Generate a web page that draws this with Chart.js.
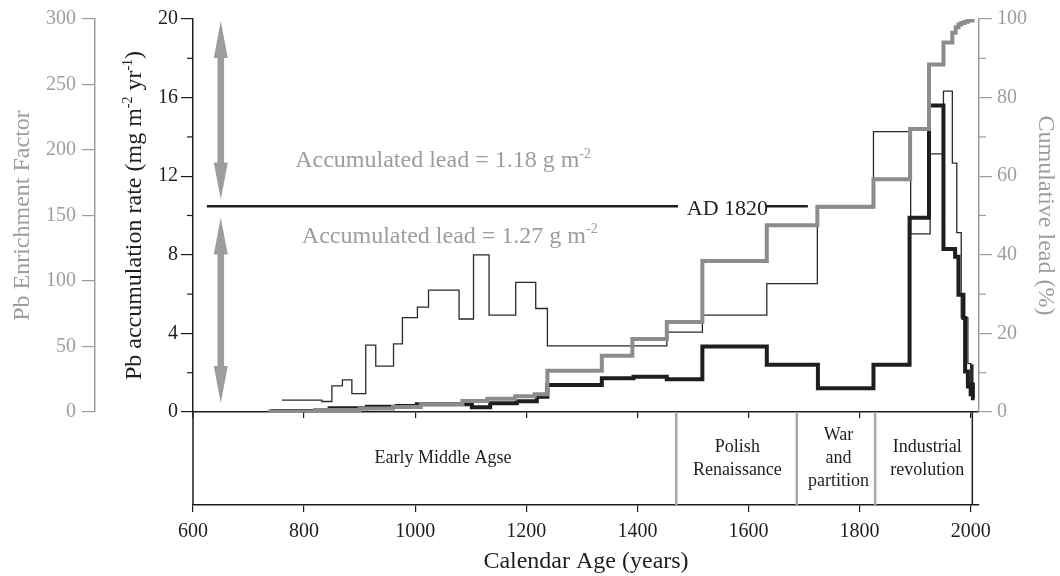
<!DOCTYPE html>
<html>
<head>
<meta charset="utf-8">
<script src="https://cdn.jsdelivr.net/npm/chart.js@4.4.0/dist/chart.umd.min.js"></script>
<style>
  body { margin: 0; background: #fff; }
  #wrap { width: 1060px; height: 576px; }
</style>
</head>
<body>
<div id="wrap"><canvas id="leadChart" width="1060" height="576"></canvas></div>
<script>
// step series: each year starts a step, the last year closes the final step
const rateYears = [740, 846, 913, 967, 1003, 1102, 1135, 1183, 1219, 1238, 1336, 1393, 1453, 1517, 1633, 1725, 1825, 1890, 1925, 1951, 1972, 1978, 1987, 1990, 1995, 2000, 2002, 2004, 2007];
const rateValues = [0.05, 0.19, 0.27, 0.3, 0.4, 0.24, 0.44, 0.55, 0.78, 1.38, 1.72, 1.8, 1.67, 3.33, 2.4, 1.21, 2.4, 9.88, 15.6, 8.3, 7.9, 5.97, 4.78, 2.06, 1.3, 0.9, 1.4, 0.7, 0.7];

const efYears = [760, 832, 850, 869, 886, 911, 929, 961, 977, 1004, 1024, 1079, 1105, 1133, 1181, 1217, 1238, 1453, 1517, 1633, 1724, 1825, 1892, 1927, 1951, 1967, 1975, 1983, 1995, 2000, 2002, 2004, 2007];
const efValues = [9, 8, 20, 24.5, 14, 51, 35, 52, 72, 80, 93, 71, 120, 74, 99, 79, 50.5, 61, 74, 98, 156, 214, 136, 197, 245, 190, 137, 72, 37, 22, 36, 18, 18];

const cumYears = [735, 820, 900, 960, 1010, 1085, 1130, 1180, 1215, 1238, 1336, 1391, 1453, 1517, 1633, 1724, 1825, 1891, 1925, 1951, 1967, 1973, 1978, 1983, 1989, 1995, 2007];
const cumValues = [0.1, 0.5, 0.9, 1.3, 2.0, 2.8, 3.4, 4.0, 4.5, 10.5, 14.3, 18.6, 22.9, 38.4, 47.5, 52.2, 59.2, 72.0, 88.4, 94.0, 96.5, 97.9, 98.6, 99.0, 99.3, 99.6, 99.6];

const periodBreaks = [1470, 1687, 1828];
const periodEnd = 2003;
const periodCenters = [1050, 1580, 1762, 1922];
const periodLabels = [['Early Middle Agse'], ['Polish', 'Renaissance'], ['War', 'and', 'partition'], ['Industrial', 'revolution']];

const xTicks = [600, 800, 1000, 1200, 1400, 1600, 1800, 2000];
const rateTicks = [0, 4, 8, 12, 16, 20];
const rateMinor = [2, 6, 10, 14, 18];
const efTicks = [0, 50, 100, 150, 200, 250, 300];
const cumTicks = [0, 20, 40, 60, 80, 100];
const cumMinor = [10, 30, 50, 70, 90];

const GREY = '#9d9d9d';
const INK = '#1e1e1e';
const SERIF = "'Liberation Serif', 'Times New Roman', serif";
Chart.defaults.font.family = SERIF;

const toPoints = (xs, ys) => xs.map((x, i) => ({ x: x, y: ys[i] }));
const fixTicks = list => scale => { scale.ticks = list.map(v => ({ value: v })); };
const plain = v => String(v);

// text with raised parts, parts = [[text, isSup], ...]
function drawSup(ctx, parts, x, y, size, align) {
  const base = size + 'px ' + SERIF;
  const small = Math.round(size * 0.6) + 'px ' + SERIF;
  let w = 0;
  parts.forEach(p => { ctx.font = p[1] ? small : base; w += ctx.measureText(p[0]).width; });
  let cx = align === 'center' ? x - w / 2 : x;
  ctx.textAlign = 'left';
  ctx.textBaseline = 'alphabetic';
  parts.forEach(p => {
    ctx.font = p[1] ? small : base;
    ctx.fillText(p[0], cx, p[1] ? y - size * 0.38 : y);
    cx += ctx.measureText(p[0]).width;
  });
}

function drawArrow(ctx, x, y1, y2) {
  const shaft = 3.3, head = 7, hl = 37;
  ctx.beginPath();
  ctx.moveTo(x, y1);
  ctx.lineTo(x + head, y1 + hl);
  ctx.lineTo(x + shaft, y1 + hl);
  ctx.lineTo(x + shaft, y2 - hl);
  ctx.lineTo(x + head, y2 - hl);
  ctx.lineTo(x, y2);
  ctx.lineTo(x - head, y2 - hl);
  ctx.lineTo(x - shaft, y2 - hl);
  ctx.lineTo(x - shaft, y1 + hl);
  ctx.lineTo(x - head, y1 + hl);
  ctx.closePath();
  ctx.fill();
}

const annotate = {
  id: 'annotate',
  afterDraw(chart) {
    const { ctx, chartArea, scales } = chart;
    const xs = scales.x, yR = scales.yRate, yC = scales.yCum;
    const bandTop = chartArea.bottom, bandBottom = scales.x2.top;
    ctx.save();

    // period band
    ctx.strokeStyle = INK;
    ctx.lineWidth = 1.5;
    ctx.beginPath();
    ctx.moveTo(chartArea.left, bandTop);
    ctx.lineTo(chartArea.left, bandBottom);
    const ex = xs.getPixelForValue(periodEnd);
    ctx.moveTo(ex, bandTop);
    ctx.lineTo(ex, bandBottom);
    ctx.stroke();
    ctx.strokeStyle = '#a8a8a8';
    ctx.lineWidth = 2.5;
    periodBreaks.forEach(v => {
      const px = xs.getPixelForValue(v);
      ctx.beginPath();
      ctx.moveTo(px, bandTop);
      ctx.lineTo(px, bandBottom);
      ctx.stroke();
    });
    ctx.fillStyle = INK;
    ctx.font = '18px ' + SERIF;
    ctx.textAlign = 'center';
    ctx.textBaseline = 'middle';
    const mid = (bandTop + bandBottom) / 2;
    periodLabels.forEach((lines, i) => {
      const px = xs.getPixelForValue(periodCenters[i]);
      lines.forEach((t, j) => {
        ctx.fillText(t, px, mid + (j - (lines.length - 1) / 2) * 23);
      });
    });

    // minor ticks
    ctx.lineWidth = 1.2;
    ctx.strokeStyle = INK;
    rateMinor.forEach(v => {
      const py = yR.getPixelForValue(v);
      ctx.beginPath();
      ctx.moveTo(chartArea.left - 6, py);
      ctx.lineTo(chartArea.left, py);
      ctx.stroke();
    });
    ctx.strokeStyle = GREY;
    cumMinor.forEach(v => {
      const py = yC.getPixelForValue(v);
      ctx.beginPath();
      ctx.moveTo(chartArea.right, py);
      ctx.lineTo(chartArea.right + 7, py);
      ctx.stroke();
    });

    // AD 1820 marker
    ctx.strokeStyle = INK;
    ctx.lineWidth = 2.5;
    const adY = yR.getPixelForValue(10.47);
    ctx.beginPath();
    ctx.moveTo(xs.getPixelForValue(625), adY);
    ctx.lineTo(xs.getPixelForValue(1473), adY);
    ctx.moveTo(xs.getPixelForValue(1633), adY);
    ctx.lineTo(xs.getPixelForValue(1707), adY);
    ctx.stroke();
    ctx.fillStyle = INK;
    drawSup(ctx, [['AD 1820', false]], xs.getPixelForValue(1489), yR.getPixelForValue(10.05), 22, 'left');

    // accumulated lead notes and arrows
    ctx.fillStyle = GREY;
    drawSup(ctx, [['Accumulated lead = 1.18 g m', false], ['-2', true]], xs.getPixelForValue(784), yR.getPixelForValue(12.45), 24, 'left');
    drawSup(ctx, [['Accumulated lead = 1.27 g m', false], ['-2', true]], xs.getPixelForValue(796), yR.getPixelForValue(8.62), 24, 'left');
    const ax = xs.getPixelForValue(650);
    drawArrow(ctx, ax, yR.getPixelForValue(19.9), yR.getPixelForValue(10.82));
    drawArrow(ctx, ax, yR.getPixelForValue(9.9), yR.getPixelForValue(0.46));

    // rate axis title with superscripts
    ctx.fillStyle = INK;
    ctx.translate(133, (chartArea.top + chartArea.bottom) / 2);
    ctx.rotate(-Math.PI / 2);
    drawSup(ctx, [['Pb accumulation rate (mg m', false], ['-2', true], [' yr', false], ['-1', true], [')', false]], 0, 8, 24, 'center');
    ctx.restore();
  }
};

new Chart(document.getElementById('leadChart'), {
  type: 'line',
  data: {
    datasets: [
      { label: 'Cumulative lead', data: toPoints(cumYears, cumValues), yAxisID: 'yCum', borderColor: '#8c8c8c', borderWidth: 4, stepped: true, pointRadius: 0 },
      { label: 'Pb accumulation rate', data: toPoints(rateYears, rateValues), yAxisID: 'yRate', borderColor: INK, borderWidth: 4, stepped: true, pointRadius: 0 },
      { label: 'Pb enrichment factor', data: toPoints(efYears, efValues), yAxisID: 'yEF', borderColor: '#2a2a2a', borderWidth: 1.3, stepped: true, pointRadius: 0 }
    ]
  },
  options: {
    responsive: false,
    animation: false,
    devicePixelRatio: 1,
    layout: { padding: { top: 19, left: 0, right: 0, bottom: 0 } },
    plugins: { legend: { display: false }, tooltip: { enabled: false } },
    scales: {
      x: {
        type: 'linear', position: 'bottom', weight: 0, min: 600, max: 2015,
        afterBuildTicks: fixTicks(xTicks),
        afterFit: s => { s.height = 93; },
        ticks: { display: false },
        grid: { drawOnChartArea: false, tickLength: 6, color: INK, lineWidth: 1.2 },
        border: { color: INK, width: 1.5 }
      },
      x2: {
        type: 'linear', position: 'bottom', weight: 1, min: 600, max: 2015,
        afterBuildTicks: fixTicks(xTicks),
        afterFit: s => { s.height = 71; },
        ticks: { color: INK, font: { size: 20 }, padding: 8, maxRotation: 0, callback: plain },
        grid: { drawOnChartArea: false, tickLength: 7, color: INK, lineWidth: 1.2 },
        border: { color: INK, width: 1.5 },
        title: { display: true, text: 'Calendar Age (years)', color: INK, font: { size: 24 }, padding: { top: 0, bottom: 0 } }
      },
      yRate: {
        type: 'linear', position: 'left', weight: 0, min: 0, max: 20,
        afterBuildTicks: fixTicks(rateTicks),
        afterFit: s => { s.width = 98; },
        ticks: { color: INK, font: { size: 20 }, padding: 3, callback: plain },
        grid: { drawOnChartArea: false, tickLength: 12, color: INK, lineWidth: 1.2 },
        border: { color: INK, width: 1.5 }
      },
      yEF: {
        type: 'linear', position: 'left', weight: 1, min: 0, max: 300,
        afterBuildTicks: fixTicks(efTicks),
        afterFit: s => { s.width = 95; },
        ticks: { color: GREY, font: { size: 20 }, padding: 6, callback: plain },
        grid: { drawOnChartArea: false, tickLength: 13, color: GREY, lineWidth: 1.2 },
        border: { color: GREY, width: 1.5 },
        title: { display: true, text: 'Pb Enrichment Factor', color: GREY, font: { size: 24 }, padding: { top: 8, bottom: 0 } }
      },
      yCum: {
        type: 'linear', position: 'right', min: 0, max: 100,
        afterBuildTicks: fixTicks(cumTicks),
        afterFit: s => { s.width = 81; },
        ticks: { color: GREY, font: { size: 20 }, padding: 5, callback: plain },
        grid: { drawOnChartArea: false, tickLength: 13, color: GREY, lineWidth: 1.2 },
        border: { color: GREY, width: 1.5 },
        title: { display: true, text: 'Cumulative lead (%)', color: GREY, font: { size: 24 }, padding: { top: 0, bottom: 0 } }
      }
    }
  },
  plugins: [annotate]
});
</script>
</body>
</html>
